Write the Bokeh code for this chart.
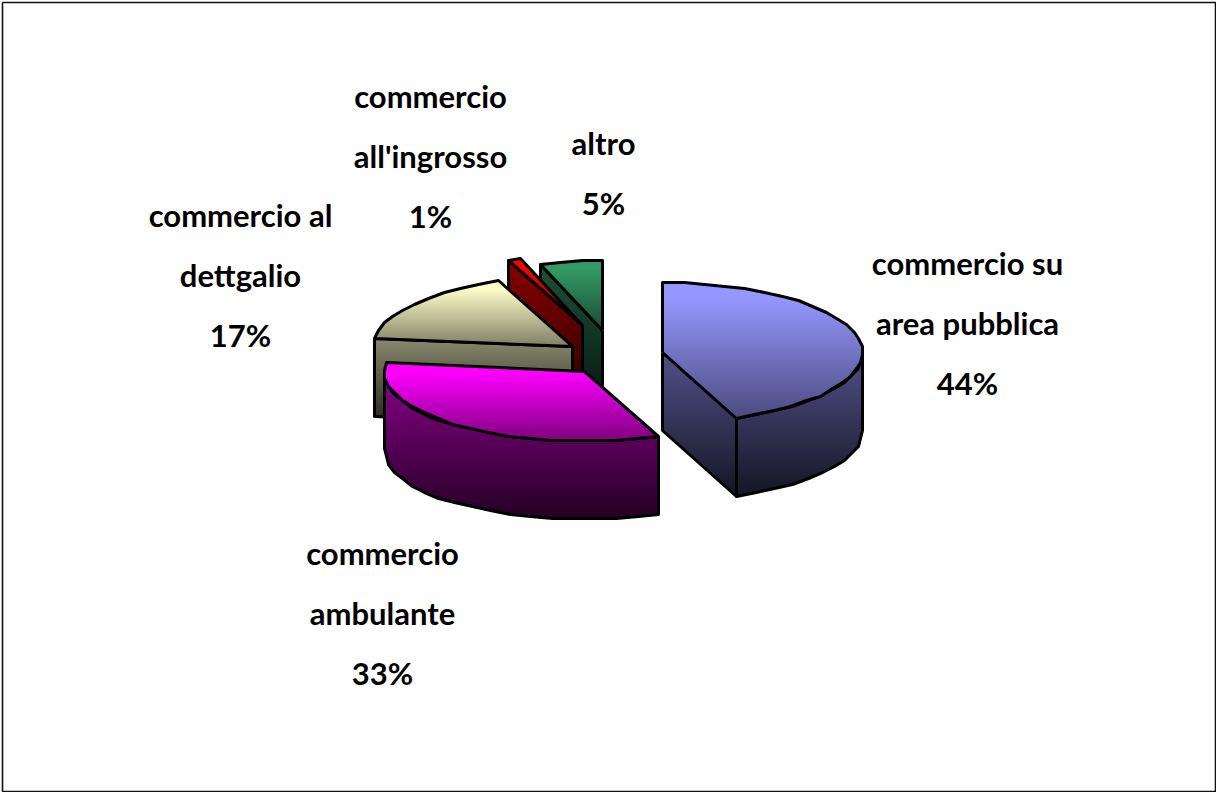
import math
from bokeh.core.properties import value
from bokeh.embed import file_html
from bokeh.models import ColumnDataSource, Range1d
from bokeh.plotting import figure
from bokeh.resources import INLINE

# ---- data ----
categories = ["commercio su\narea pubblica", "commercio\nambulante", "commercio al\ndettgalio",
              "commercio\nall'ingrosso", "altro"]
shares = [44, 33, 17, 1, 5]

# ---- styles and layout (page pixels) ----
base_colors = [(150, 150, 255), (255, 0, 255), (255, 255, 204), (255, 0, 0), (51, 153, 102)]
centers = [(662, 352), (584, 371), (572, 346), (582, 325), (602, 330)]
label_pos = [(967, 262), (382, 552), (240, 214), (430, 95), (603, 142)]
paint_order = [4, 3, 2, 0, 1]
RX, RY, DEPTH = 200, 70, 78
LINE_GAP = 60
OUT = 3.0

W, H = 1216, 792
p = figure(width=W, height=H, output_backend="svg", toolbar_location=None,
           x_range=Range1d(0, W), y_range=Range1d(H, 0), min_border=0)
p.axis.visible = False
p.grid.visible = False
p.outline_line_color = None
p.styles = {"position": "absolute", "left": "0px", "top": "0px"}


def snap(v, step=2.0):
    return round(v / step) * step


def pt(c, a, dz=0.0):
    r = math.radians(a)
    return (snap(c[0] + RX * math.sin(r)), snap(c[1] - RY * math.cos(r) + dz))


def arc(c, a0, a1, dz=0.0):
    n = max(1, int(abs(a1 - a0) / 6))
    return [pt(c, a0 + (a1 - a0) * i / n, dz) for i in range(n + 1)]


def shade(col, f):
    return "#%02x%02x%02x" % tuple(max(0, min(255, int(round(ch * f)))) for ch in col)


def fill(poly, col, ya, yb, fa, fb, flat=0.0):
    """Vertical gradient: the polygon is drawn as overlapping rows, so no seams show."""
    ys = [q[1] for q in poly]
    left, right, top, bottom, colors = [], [], [], [], []
    for y in range(int(min(ys)), int(max(ys)) + 1):
        yc = y + 0.5
        xs = []
        for (x0, y0), (x1, y1) in zip(poly, poly[1:] + poly[:1]):
            if (y0 <= yc < y1) or (y1 <= yc < y0):
                xs.append(x0 + (yc - y0) * (x1 - x0) / (y1 - y0))
        xs.sort()
        t = max(0.0, min(1.0, (yc - ya) / max(1.0, yb - ya)))
        t = max(0.0, (t - flat) / (1 - flat))
        c = shade(col, fa + (fb - fa) * t)
        for i in range(0, len(xs) - 1, 2):
            left.append(xs[i]); right.append(xs[i + 1])
            top.append(y - 0.5); bottom.append(y + 1.5); colors.append(c)
    p.quad(left="l", right="r", top="t", bottom="b", fill_color="c", fill_alpha=1.0, line_color=None,
           source=ColumnDataSource(dict(l=left, r=right, t=top, b=bottom, c=colors)))


def outline(poly):
    xs = [q[0] for q in poly] + [poly[0][0]]
    ys = [q[1] for q in poly] + [poly[0][1]]
    p.line(xs, ys, line_color="black", line_width=OUT, line_join="round")


# frame
p.line([2, 1215, 1215, 2, 2], [2, 2, 791, 791, 2], line_color="#111111", line_width=1.6)

total = sum(shares)
angles = [0.0]
for s in shares:
    angles.append(angles[-1] + 360.0 * s / total)

for i in paint_order:
    a0, a1, col, c = angles[i], angles[i + 1], base_colors[i], centers[i]
    top_face = [c] + arc(c, a0, a1)
    sides = []
    if a0 >= 180:
        sides.append([c, pt(c, a0), pt(c, a0, DEPTH), (c[0], c[1] + DEPTH)])
    if a1 <= 180:
        sides.append([c, pt(c, a1), pt(c, a1, DEPTH), (c[0], c[1] + DEPTH)])
    w0, w1 = max(a0, 90), min(a1, 270)
    if w0 < w1:
        sides.append(arc(c, w0, w1) + arc(c, w1, w0, DEPTH))
    if sides:
        all_y = [q[1] for f in sides for q in f]
        ya, yb = min(all_y), max(all_y)
        for f in sides:
            fill(f, col, ya, yb, 0.54, 0.14)
        for f in sides:
            outline(f)
    ty = [q[1] for q in top_face]
    fill(top_face, col, min(ty), max(ty), 1.0, 0.5, flat=0.12)
    outline(top_face)

# labels
for cat, s, (x, y) in zip(categories, shares, label_pos):
    lines = cat.split("\n") + [f"{s}%"]
    for k, txt in enumerate(lines):
        p.text([x], [y + k * LINE_GAP], text=[txt], text_align="center", text_baseline="middle",
               text_font=value("Lato"), text_font_size="31px", text_font_style="bold", text_color="black")

open("out.html", "w").write(file_html(p, INLINE))
